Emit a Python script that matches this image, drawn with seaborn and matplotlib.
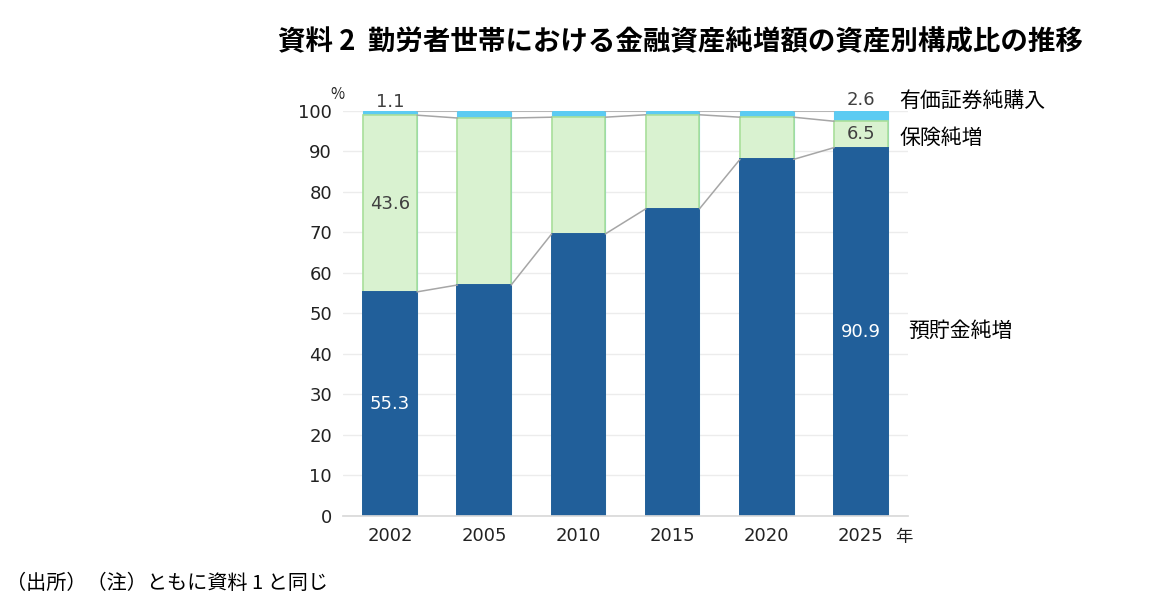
import numpy as np
import pandas as pd
import matplotlib
matplotlib.use("Agg")
import matplotlib.pyplot as plt
import seaborn as sns

sns.set_theme(style="white")
plt.rcParams['font.family'] = ['Noto Sans CJK JP', 'DejaVu Sans']

# data (% of net increase in financial assets, workers' households)
years = ["2002", "2005", "2010", "2015", "2020", "2025"]
deposit = [55.3, 57.0, 69.6, 75.8, 88.0, 90.9]      # 預貯金純増
insurance = [43.6, 41.2, 28.8, 23.2, 10.4, 6.5]     # 保険純増
securities = [1.1, 1.8, 1.6, 1.0, 1.6, 2.6]         # 有価証券純購入

c_dep = "#215f9a"
c_ins = "#d9f2d0"
c_ins_edge = "#a9df9a"
c_sec = "#5ccbf2"
c_line = "#a6a6a6"
c_txt = "#404040"
num_font = ['DejaVu Sans']

df = pd.DataFrame({"year": years, "dep": deposit, "ins": insurance, "sec": securities})
df["top_ins"] = df["dep"] + df["ins"]
df["top_sec"] = df["top_ins"] + df["sec"]

fig = plt.figure(figsize=(11.59, 6.10), dpi=100)
ax = fig.add_axes([0.296, 0.1541, 0.4875, 0.6644])

w = 0.57
sns.barplot(data=df, x="year", y="top_sec", color=c_sec, width=w, saturation=1, ax=ax,
            edgecolor=c_sec, linewidth=0.8)
sns.barplot(data=df, x="year", y="top_ins", color=c_ins, width=w, saturation=1, ax=ax,
            edgecolor=c_ins_edge, linewidth=1.2)
sns.barplot(data=df, x="year", y="dep", color=c_dep, width=w, saturation=1, ax=ax,
            edgecolor=c_dep, linewidth=1.4)

# connector lines between bar segments
for col in ["dep", "top_ins", "top_sec"]:
    v = df[col].values
    for i in range(len(v) - 1):
        ax.plot([i + w / 2, i + 1 - w / 2], [v[i], v[i + 1]], color=c_line, lw=1.1, zorder=1)

ax.set_xlim(-0.5, 5.5)
ax.set_ylim(0, 100)
ax.set_yticks(np.arange(0, 101, 10))
ax.yaxis.grid(True, color="#ececec", lw=1)
ax.set_axisbelow(True)
for s in ["left", "right", "top"]:
    ax.spines[s].set_visible(False)
ax.spines["bottom"].set_color("#d9d9d9")
ax.set_xlabel("")
ax.set_ylabel("")
ax.tick_params(axis="both", length=0, labelsize=13, labelcolor="#222222")
ax.tick_params(axis="y", pad=8)
ax.tick_params(axis="x", pad=8)
for lab in ax.get_xticklabels() + ax.get_yticklabels():
    lab.set_family(num_font)

# value labels
kw = dict(ha="center", va="center", fontsize=13, family=num_font)
ax.text(0, 102.2, f"{securities[0]}", color=c_txt, clip_on=False, **kw)
ax.text(0, deposit[0] + insurance[0] / 2, f"{insurance[0]}", color=c_txt, **kw)
ax.text(0, deposit[0] / 2, f"{deposit[0]}", color="white", **kw)
ax.text(5, 102.7, f"{securities[5]}", color=c_txt, clip_on=False, **kw)
ax.text(5, deposit[5] + insurance[5] / 2, f"{insurance[5]}", color=c_txt, **kw)
ax.text(5, deposit[5] / 2, f"{deposit[5]}", color="white", **kw)

# series names on the right
ax.text(5.41, 102.4, "有価証券純購入", ha="left", va="center", fontsize=15, color="black", clip_on=False)
ax.text(5.41, 93.2, "保険純増", ha="left", va="center", fontsize=15, color="black", clip_on=False)
ax.text(5.5, 45.6, "預貯金純増", ha="left", va="center", fontsize=15, color="black", clip_on=False)

# units
ax.text(-0.56, 103.9, "%", ha="center", va="center", fontsize=11, color="#222222", clip_on=False)
ax.text(5.45, -5.1, "年", ha="center", va="center", fontsize=12.5, color="#222222", clip_on=False)

fig.text(0.587, 0.931, "資料 2  勤労者世帯における金融資産純増額の資産別構成比の推移",
         ha="center", va="center", fontsize=19.8, fontweight="bold", color="black")
fig.text(0.005, 0.044, "（出所）（注）ともに資料 1 と同じ", ha="left", va="center",
         fontsize=14.5, color="black")

fig.savefig("out.png", dpi=100)
